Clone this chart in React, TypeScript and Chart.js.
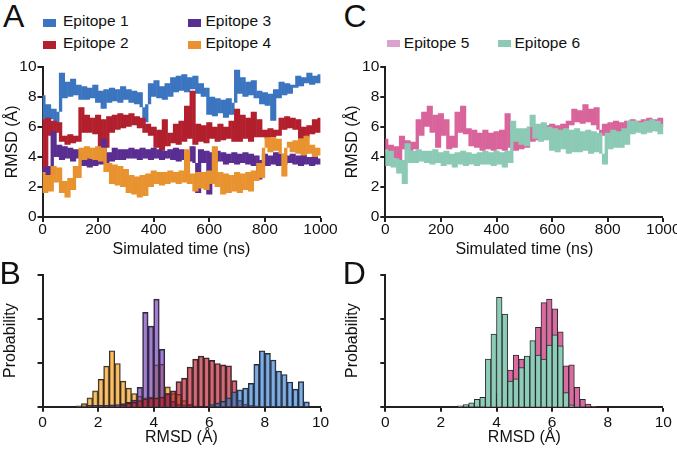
import React, { useEffect, useRef } from 'react';
import { Chart, registerables } from 'chart.js';

Chart.register(...registerables);

const FONT = "'Liberation Sans', Arial, Helvetica, sans-serif";
const INK = '#231f20';
const TEXT = '#111111';

// ---------- time axis (ns) and histogram bins (Å) ----------
const TIME_NS = Array.from({ length: 101 }, (_, i) => i * 10);
const BIN_CENTERS = Array.from({ length: 50 }, (_, i) => +(0.1 + i * 0.2).toFixed(1));
const TIME_TICK_STEP = 200;
const RMSD_TICK_STEP = 2;

// ---------- RMSD traces (Å), one value every 10 ns ----------
const E1_RMSD = [
  8.1, 6.4, 7.5, 6.5, 7.2, 6.1, 7.0, 9.6, 7.9, 9.0,
  8.0, 9.2, 8.1, 8.8, 7.8, 8.7, 7.8, 8.6, 7.9, 8.8,
  7.6, 8.4, 7.2, 8.5, 7.6, 8.6, 7.7, 8.5, 7.6, 8.7,
  7.8, 8.5, 7.6, 8.4, 7.5, 8.3, 7.3, 6.3, 7.5, 8.9,
  8.0, 9.1, 7.9, 8.7, 7.8, 8.9, 8.0, 9.3, 8.3, 9.4,
  8.4, 9.5, 8.3, 9.3, 8.5, 9.4, 8.2, 8.9, 8.0, 8.6,
  6.8, 8.0, 6.7, 7.9, 6.9, 7.8, 6.6, 7.9, 6.8, 7.6,
  9.8, 8.2, 9.3, 8.0, 9.0, 8.1, 9.1, 7.9, 8.4, 7.5,
  8.3, 7.4, 8.2, 6.4, 8.5, 7.9, 9.0, 8.1, 8.9, 8.2,
  8.8, 8.6, 9.4, 8.7, 9.3, 8.9, 9.6, 8.8, 9.4, 8.9, 9.5,
];
const E2_RMSD = [
  6.5, 3.0, 6.6, 5.4, 6.4, 5.6, 6.3, 5.0, 5.4, 4.8,
  5.5, 4.9, 5.4, 5.0, 7.3, 5.6, 6.8, 5.6, 6.6, 5.5,
  6.8, 4.4, 6.5, 4.6, 6.7, 5.6, 6.8, 5.8, 6.9, 5.9,
  6.8, 6.0, 6.9, 6.1, 6.7, 5.9, 6.6, 5.6, 6.2, 5.4,
  6.0, 4.6, 5.8, 4.4, 6.5, 4.7, 5.6, 4.9, 6.2, 4.8,
  6.4, 5.0, 7.4, 5.2, 8.4, 4.8, 6.2, 5.0, 6.1, 4.9,
  6.3, 5.2, 6.0, 5.0, 6.2, 5.1, 6.0, 5.2, 6.4, 5.0,
  7.2, 5.0, 6.8, 5.2, 6.6, 5.0, 7.0, 5.3, 6.5, 5.3,
  5.8, 5.2, 5.9, 5.3, 5.8, 5.4, 6.6, 5.8, 6.7, 5.9,
  6.6, 5.8, 6.5, 5.2, 6.0, 5.3, 6.1, 5.5, 6.5, 5.6, 6.6,
];
const E3_RMSD = [
  3.3, 2.6, 3.4, 2.8, 5.7, 4.0, 4.8, 3.8, 4.7, 3.9,
  4.6, 3.7, 4.5, 3.9, 4.3, 3.4, 4.0, 3.3, 3.9, 3.4,
  4.2, 3.5, 5.2, 3.6, 4.3, 3.7, 4.6, 3.8, 4.5, 3.8,
  4.5, 3.9, 4.6, 3.9, 4.5, 3.8, 4.6, 3.9, 4.5, 3.8,
  4.6, 3.9, 4.5, 3.8, 4.4, 3.9, 4.5, 3.8, 4.6, 3.7,
  4.5, 3.8, 4.4, 3.7, 4.7, 3.6, 1.6, 4.5, 3.6, 4.4,
  1.5, 4.3, 3.6, 4.4, 3.7, 4.3, 3.5, 4.2, 3.6, 4.3,
  3.5, 4.2, 3.6, 4.3, 3.5, 4.2, 3.4, 4.1, 2.5, 3.8,
  4.2, 3.4, 4.1, 3.5, 4.3, 3.4, 4.2, 3.5, 4.1, 3.6,
  4.2, 3.5, 4.1, 3.4, 4.2, 3.5, 4.0, 3.4, 4.1, 3.5, 3.9,
];
const E4_RMSD = [
  3.0, 1.6, 2.8, 1.7, 3.4, 2.3, 3.3, 1.6, 2.4, 1.3,
  2.6, 1.8, 3.4, 2.6, 4.6, 3.8, 4.7, 3.9, 4.6, 3.8,
  4.7, 3.7, 4.6, 3.0, 3.6, 2.2, 3.5, 2.1, 3.4, 2.0,
  3.2, 1.6, 2.8, 1.5, 2.7, 1.3, 2.8, 1.4, 2.9, 2.0,
  3.1, 2.2, 3.0, 2.1, 3.0, 2.2, 3.1, 2.3, 3.0, 2.2,
  3.1, 2.3, 4.5, 2.2, 2.9, 1.7, 3.0, 1.9, 3.0, 1.8,
  3.1, 2.2, 4.7, 2.0, 3.0, 1.5, 2.9, 1.6, 2.8, 1.7,
  3.0, 1.6, 2.9, 1.8, 3.0, 1.7, 3.1, 2.4, 3.6, 2.6,
  4.6, 5.3, 4.3, 5.3, 4.4, 5.2, 4.2, 2.7, 4.6, 5.0,
  4.3, 5.1, 4.2, 5.2, 4.1, 5.4, 4.2, 4.8, 4.0, 4.6, 4.1,
];
const E5_RMSD = [
  5.2, 4.2, 4.8, 3.9, 4.7, 3.8, 5.4, 4.5, 5.1, 4.4,
  5.0, 4.5, 6.5, 5.4, 7.0, 6.0, 7.4, 5.6, 6.8, 4.6,
  6.9, 5.4, 6.5, 4.5, 5.4, 4.6, 7.0, 5.6, 7.4, 5.5,
  5.9, 4.7, 5.8, 4.6, 5.6, 4.4, 5.8, 4.5, 5.6, 4.4,
  5.7, 4.5, 5.8, 4.4, 6.9, 4.6, 5.8, 4.4, 5.2, 4.5,
  5.6, 4.6, 6.0, 5.0, 6.1, 5.1, 6.0, 5.2, 6.1, 5.3,
  6.2, 5.4, 6.1, 5.3, 6.2, 5.5, 6.4, 6.1, 7.2, 6.3,
  7.1, 6.2, 7.5, 6.3, 7.2, 6.1, 7.3, 5.8, 5.4, 6.2,
  5.4, 6.3, 5.5, 6.4, 5.6, 6.3, 5.5, 6.4, 5.8, 6.5,
  5.7, 6.4, 5.8, 6.5, 5.7, 6.6, 5.8, 6.5, 5.7, 6.6, 6.0,
];
const E6_RMSD = [
  4.5, 3.4, 4.4, 3.3, 3.9, 2.9, 3.8, 2.2, 4.9, 3.6,
  4.4, 3.6, 4.5, 3.7, 4.4, 3.6, 4.4, 3.5, 4.5, 3.6,
  4.3, 3.4, 4.4, 3.5, 4.2, 3.3, 4.3, 3.5, 4.4, 3.4,
  4.3, 3.5, 4.2, 3.4, 4.3, 3.5, 4.4, 3.5, 4.3, 3.4,
  4.4, 3.5, 4.3, 3.3, 4.4, 3.6, 6.4, 5.0, 5.9, 4.8,
  5.9, 4.7, 6.0, 6.8, 5.2, 6.2, 5.0, 6.3, 5.1, 6.0,
  4.4, 5.9, 4.3, 5.8, 4.5, 5.9, 4.2, 5.8, 4.3, 5.9,
  4.3, 5.7, 4.4, 5.8, 4.2, 5.7, 4.3, 5.6, 4.2, 3.5,
  5.6, 4.5, 5.8, 4.6, 5.7, 4.6, 5.9, 4.8, 6.4, 5.5,
  6.4, 5.6, 6.3, 5.5, 6.4, 5.6, 6.5, 5.7, 6.4, 5.5, 6.2,
];

// ---------- RMSD distributions (probability, 0.2 Å bins from 0 to 10 Å) ----------
const E1_PROB = [
  0, 0, 0, 0, 0, 0, 0, 0, 0, 0,
  0, 0, 0, 0, 0, 0, 0, 0, 0, 0,
  0, 0, 0, 0, 0, 0, 0, 0, 0, 0,
  0.05, 0.08, 0.12, 0.2, 0.34, 0.38, 0.42, 0.53, 0.96, 1.27,
  1.21, 1.06, 0.81, 0.73, 0.56, 0.4, 0.57, 0.11, 0, 0,
];
const E2_PROB = [
  0, 0, 0, 0, 0, 0, 0, 0, 0, 0,
  0, 0, 0, 0, 0.04, 0.08, 0.1, 0.14, 0.18, 0.2,
  0.2, 0.22, 0.3, 0.36, 0.57, 0.65, 0.9, 1.08, 1.15, 1.11,
  1.05, 0.98, 0.95, 0.93, 0.59, 0.15, 0.06, 0.03, 0.02, 0.01,
  0, 0, 0, 0, 0, 0, 0, 0, 0, 0,
];
const E3_PROB = [
  0, 0, 0, 0, 0, 0, 0, 0.02, 0.03, 0.03,
  0.03, 0.03, 0.04, 0.05, 0.07, 0.1, 0.15, 0.44, 2.14, 1.83,
  2.44, 1.3, 0.3, 0.12, 0.06, 0.04, 0.03, 0.02, 0, 0,
  0, 0, 0, 0, 0, 0, 0, 0, 0, 0,
  0, 0, 0, 0, 0, 0, 0, 0, 0, 0,
];
const E4_PROB = [
  0, 0, 0, 0, 0, 0, 0.02, 0.07, 0.2, 0.36,
  0.62, 0.92, 1.27, 0.98, 0.58, 0.42, 0.3, 0.24, 0.2, 0.22,
  0.95, 0.96, 0.45, 0.3, 0.28, 0.14, 0.06, 0, 0, 0,
  0, 0, 0, 0, 0, 0, 0, 0, 0, 0,
  0, 0, 0, 0, 0, 0, 0, 0, 0, 0,
];
const E5_PROB = [
  0, 0, 0, 0, 0, 0, 0, 0, 0, 0,
  0, 0, 0, 0, 0, 0, 0, 0, 0.05, 0.2,
  0.3, 0.45, 0.83, 1.17, 1.08, 0.95, 1.0, 1.8, 2.36, 2.44,
  2.22, 1.7, 0.93, 0.95, 0.44, 0.17, 0.06, 0.01, 0, 0,
  0, 0, 0, 0, 0, 0, 0, 0, 0, 0,
];
const E6_PROB = [
  0, 0, 0, 0, 0, 0, 0, 0, 0, 0,
  0, 0, 0, 0.02, 0.05, 0.09, 0.17, 0.21, 1.08, 1.65,
  2.48, 2.1, 0.58, 0.63, 0.89, 1.15, 1.5, 1.17, 1.08, 1.4,
  1.63, 1.38, 0.32, 0.04, 0.01, 0, 0, 0, 0, 0,
  0, 0, 0, 0, 0, 0, 0, 0, 0, 0,
];

// ---------- colours ----------
const C1 = '#3b75c0';
const C2 = '#b21f2d';
const C3 = '#5a2d91';
const C4 = '#e8932f';
const C5 = '#d8649b';
const C6 = '#8ccab6';
const C5_LEGEND = '#d9a3cd';

const H1 = 'rgba(44,117,201,0.6)';
const H2 = 'rgba(175,20,40,0.62)';
const H3 = 'rgba(104,52,172,0.62)';
const H4 = 'rgba(240,152,20,0.62)';
const H5 = '#d96ba1';
const H6 = '#8bcdb8';

// ---------- helpers ----------
type ScaleOpts = {
  min: number;
  max: number;
  step: number;
  horizontal: boolean;
  size: number;
  title: string;
  titlePad: { top: number; bottom: number };
  tickPad: number;
  labels: boolean;
};

function makeScale(o: ScaleOpts) {
  return {
    type: 'linear',
    position: o.horizontal ? 'bottom' : 'left',
    min: o.min,
    max: o.max,
    offset: false,
    ticks: {
      stepSize: o.step,
      autoSkip: false,
      maxRotation: 0,
      minRotation: 0,
      padding: o.tickPad,
      color: TEXT,
      font: { family: FONT, size: 15.5 },
      callback: (v: number) => (o.labels ? String(v) : ''),
    },
    grid: {
      display: true,
      offset: false,
      drawOnChartArea: false,
      drawTicks: true,
      tickLength: 5,
      tickWidth: 2,
      tickColor: INK,
      lineWidth: 0,
    },
    border: { display: true, color: INK, width: 2 },
    title: {
      display: true,
      text: o.title,
      color: TEXT,
      font: { family: FONT, size: 16 },
      padding: o.titlePad,
    },
    afterFit: (s: any) => {
      if (o.horizontal) s.height = o.size;
      else s.width = o.size;
      s.paddingLeft = 0;
      s.paddingRight = 0;
      s.paddingTop = 0;
      s.paddingBottom = 0;
    },
  };
}

type TraceSeries = { label: string; values: number[]; color: string; order: number };
type HistSeries = { label: string; values: number[]; fill: string; order: number };

// Each 10 ns column of a dense MD trace covers the range swept by the trace
// between two consecutive samples; drawn as a floating bar from the library.
function traceColumns(values: number[]) {
  return TIME_NS.slice(0, -1).map((t, i) => ({
    x: t + 5,
    y: [Math.min(values[i], values[i + 1]), Math.max(values[i], values[i + 1])],
  }));
}

function traceConfig(series: TraceSeries[], pad: any, yWidth: number, yTitlePad: number) {
  return {
    type: 'bar',
    data: {
      datasets: series.map((s) => ({
        label: s.label,
        data: traceColumns(s.values),
        backgroundColor: s.color,
        borderWidth: 0,
        grouped: false,
        barPercentage: 1.2,
        categoryPercentage: 1,
        order: s.order,
      })),
    },
    options: {
      animation: false,
      responsive: false,
      devicePixelRatio: 1,
      layout: { padding: pad },
      plugins: { legend: { display: false }, tooltip: { enabled: false } },
      scales: {
        x: makeScale({
          min: 0, max: 1000, step: TIME_TICK_STEP, horizontal: true, size: 43,
          title: 'Simulated time (ns)', titlePad: { top: 0, bottom: 0.4 }, tickPad: -1.5, labels: true,
        }),
        y: makeScale({
          min: 0, max: 10, step: RMSD_TICK_STEP, horizontal: false, size: yWidth,
          title: 'RMSD (Å)', titlePad: { top: yTitlePad, bottom: 0 }, tickPad: 1, labels: true,
        }),
      },
    },
  };
}

function histConfig(series: HistSeries[], pad: any, yWidth: number, yTitlePad: number) {
  return {
    type: 'bar',
    data: {
      datasets: series.map((s) => ({
        label: s.label,
        data: BIN_CENTERS.map((c, i) => ({ x: c, y: s.values[i] > 0 ? s.values[i] : null })),
        backgroundColor: s.fill,
        borderColor: '#2b2b2b',
        borderWidth: 1,
        grouped: false,
        barPercentage: 1,
        categoryPercentage: 1,
        order: s.order,
      })),
    },
    options: {
      animation: false,
      responsive: false,
      devicePixelRatio: 1,
      layout: { padding: pad },
      plugins: { legend: { display: false }, tooltip: { enabled: false } },
      scales: {
        x: makeScale({
          min: 0, max: 10, step: RMSD_TICK_STEP, horizontal: true, size: 42.3,
          title: 'RMSD (Å)', titlePad: { top: 0, bottom: 1.9 }, tickPad: 1.8, labels: true,
        }),
        y: makeScale({
          min: 0, max: 3, step: 1, horizontal: false, size: yWidth,
          title: 'Probability', titlePad: { top: yTitlePad, bottom: 0 }, tickPad: 1, labels: false,
        }),
      },
    },
  };
}

function ChartCanvas(props: { left: number; top: number; width: number; height: number; config: () => any }) {
  const ref = useRef<HTMLCanvasElement>(null);
  useEffect(() => {
    const chart = new Chart(ref.current as HTMLCanvasElement, props.config());
    return () => chart.destroy();
  }, []);
  return (
    <canvas
      ref={ref}
      width={props.width}
      height={props.height}
      style={{ position: 'absolute', left: props.left, top: props.top, width: props.width, height: props.height }}
    />
  );
}

function Label(props: { left: number; top: number; size: number; lh: number; text: string }) {
  return (
    <div
      style={{
        position: 'absolute',
        left: props.left,
        top: props.top,
        fontFamily: FONT,
        fontSize: props.size,
        lineHeight: props.lh + 'px',
        color: TEXT,
        whiteSpace: 'nowrap',
      }}
    >
      {props.text}
    </div>
  );
}

function Swatch(props: { left: number; top: number; color: string }) {
  return (
    <div
      style={{ position: 'absolute', left: props.left, top: props.top, width: 13, height: 7.5, background: props.color }}
    />
  );
}

export default function App() {
  return (
    <div
      style={{
        position: 'fixed',
        left: 0,
        top: 0,
        width: 677,
        height: 449,
        background: '#ffffff',
        overflow: 'hidden',
      }}
    >
      {/* Panel A */}
      <ChartCanvas
        left={0}
        top={55}
        width={340}
        height={205}
        config={() =>
          traceConfig(
            [
              { label: 'Epitope 1', values: E1_RMSD, color: C1, order: 3 },
              { label: 'Epitope 2', values: E2_RMSD, color: C2, order: 2 },
              { label: 'Epitope 3', values: E3_RMSD, color: C3, order: 1 },
              { label: 'Epitope 4', values: E4_RMSD, color: C4, order: 0 },
            ],
            { left: 0, right: 19.5, top: 11.7, bottom: 0 },
            42.5,
            3,
          )
        }
      />
      {/* Panel C */}
      <ChartCanvas
        left={340}
        top={55}
        width={337}
        height={205}
        config={() =>
          traceConfig(
            [
              { label: 'Epitope 5', values: E5_RMSD, color: C5, order: 1 },
              { label: 'Epitope 6', values: E6_RMSD, color: C6, order: 0 },
            ],
            { left: 0, right: 13.7, top: 11.7, bottom: 0 },
            45.3,
            3,
          )
        }
      />
      {/* Panel B */}
      <ChartCanvas
        left={0}
        top={262}
        width={340}
        height={187}
        config={() =>
          histConfig(
            [
              { label: 'Epitope 1', values: E1_PROB, fill: H1, order: 0 },
              { label: 'Epitope 2', values: E2_PROB, fill: H2, order: 1 },
              { label: 'Epitope 3', values: E3_PROB, fill: H3, order: 2 },
              { label: 'Epitope 4', values: E4_PROB, fill: H4, order: 3 },
            ],
            { left: 0, right: 19.5, top: 12.5, bottom: 0 },
            42.5,
            1.4,
          )
        }
      />
      {/* Panel D */}
      <ChartCanvas
        left={340}
        top={262}
        width={337}
        height={187}
        config={() =>
          histConfig(
            [
              { label: 'Epitope 5', values: E5_PROB, fill: H5, order: 1 },
              { label: 'Epitope 6', values: E6_PROB, fill: H6, order: 0 },
            ],
            { left: 0, right: 13.7, top: 12.5, bottom: 0 },
            45.3,
            2.9,
          )
        }
      />

      {/* Panel letters */}
      <Label left={3} top={-2.3} size={32} lh={36} text="A" />
      <Label left={-0.6} top={254.9} size={32} lh={36} text="B" />
      <Label left={343.5} top={-2.3} size={32} lh={36} text="C" />
      <Label left={342.7} top={254.9} size={32} lh={36} text="D" />

      {/* Legend A */}
      <Swatch left={43.3} top={19} color={C1} />
      <Label left={63} top={12.3} size={15.5} lh={18} text="Epitope 1" />
      <Swatch left={188.3} top={19} color={C3} />
      <Label left={205.5} top={12.3} size={15.5} lh={18} text="Epitope 3" />
      <Swatch left={43.3} top={41} color={C2} />
      <Label left={63} top={34.3} size={15.5} lh={18} text="Epitope 2" />
      <Swatch left={188.3} top={41} color={C4} />
      <Label left={205.5} top={34.3} size={15.5} lh={18} text="Epitope 4" />

      {/* Legend C */}
      <Swatch left={386.7} top={39.5} color={C5_LEGEND} />
      <Label left={403.8} top={34} size={15.5} lh={18} text="Epitope 5" />
      <Swatch left={498.3} top={39.5} color={C6} />
      <Label left={514.5} top={34} size={15.5} lh={18} text="Epitope 6" />
    </div>
  );
}
